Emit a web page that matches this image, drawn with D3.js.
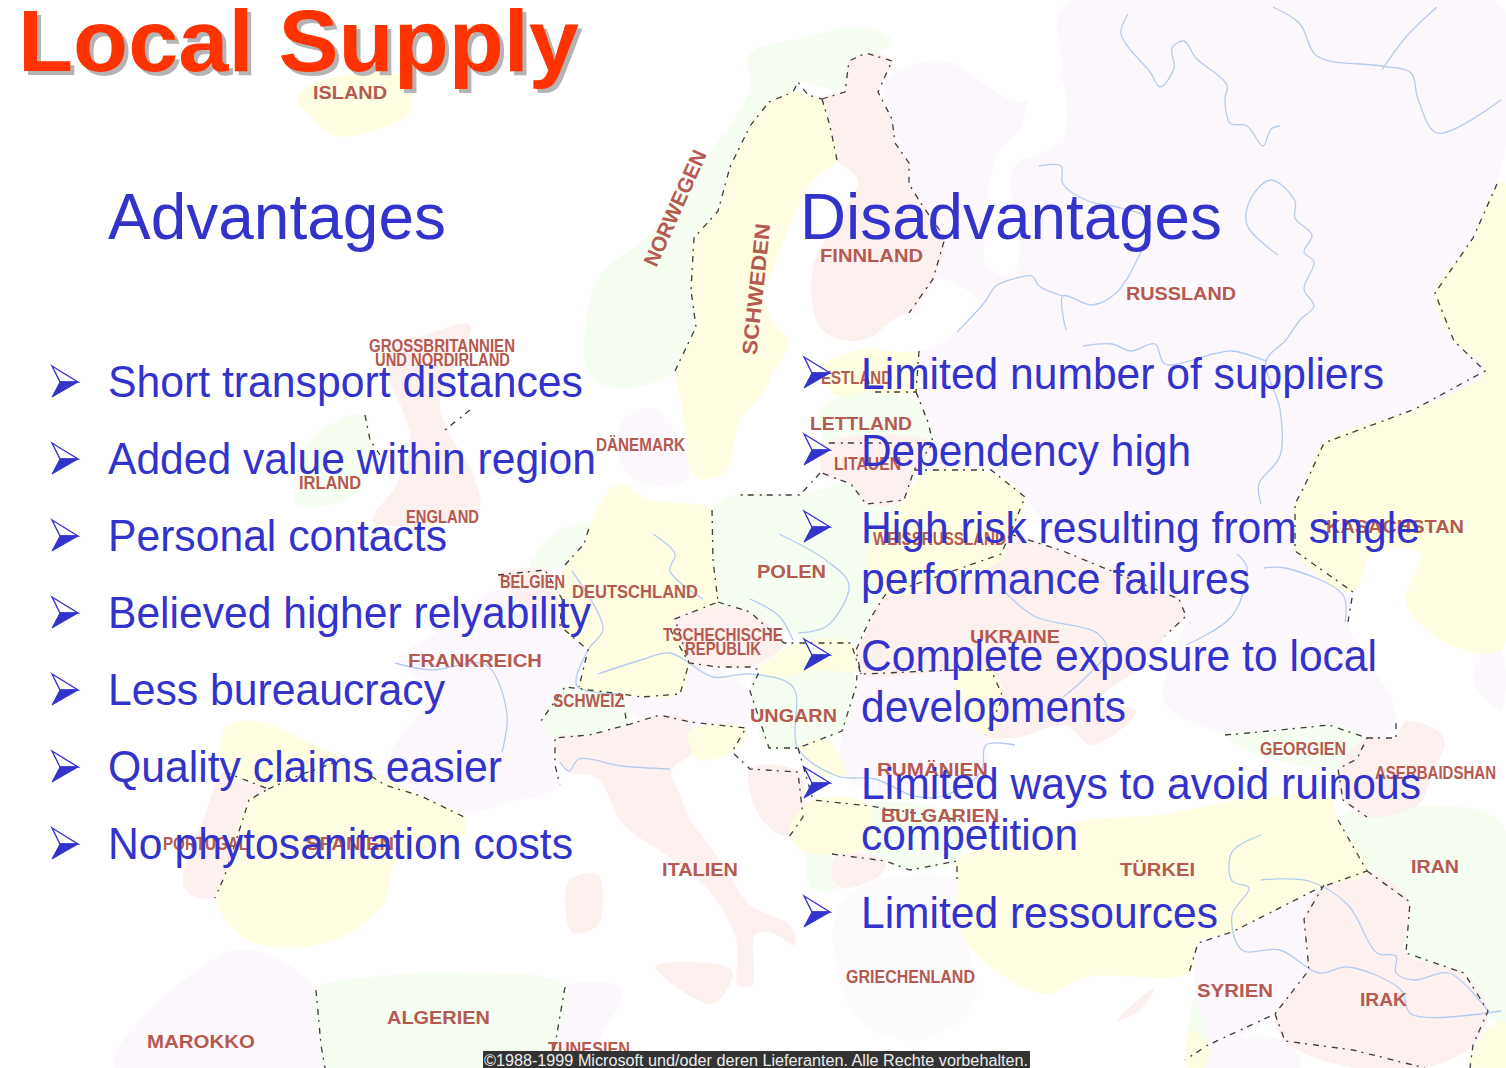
<!DOCTYPE html>
<html>
<head>
<meta charset="utf-8">
<title>Local Supply</title>
<script src="https://cdn.jsdelivr.net/npm/d3@7"></script>
<style>
  html, body { margin: 0; padding: 0; background: #fff; overflow: hidden; }
  text { font-family: "Liberation Sans", Arial, sans-serif; }
</style>
</head>
<body>
<div id="chart"></div>
<script>
// slide text
const titleText = "Local Supply";
const advantagesHead = "Advantages";
const disadvantagesHead = "Disadvantages";
const advantages = ["Short transport distances", "Added value within region", "Personal contacts",
  "Believed higher relyability", "Less bureaucracy", "Quality claims easier", "No phytosanitation costs"];
const advantagesEnd = [583, 596, 447, 591, 445, 502, 573];
const advantagesBase = [397, 474, 551, 628, 705, 782, 859];
const disadvantages = ["Limited number of suppliers", "Dependency high", "High risk resulting from single",
  "performance failures", "Complete exposure to local", "developments", "Limited ways to avoid ruinous",
  "competition", "Limited ressources"];
const disadvantagesEnd = [1384, 1191, 1420, 1250, 1377, 1126, 1421, 1078, 1218];
const disadvantagesBase = [389, 466, 543, 594, 671, 722, 799, 850, 928];
const bulletBaseRight = [388, 465, 542, 670, 798, 927];
const copyrightText = "©1988-1999 Microsoft und/oder deren Lieferanten. Alle Rechte vorbehalten.";

// map labels: name, left edge, baseline, right edge (map units)
const mapLabels = [
  ["ISLAND", 313, 99, 387],
  ["FINNLAND", 820, 262, 923], ["RUSSLAND", 1126, 300, 1236],
  ["GROSSBRITANNIEN", 369, 352, 515], ["UND NORDIRLAND", 375, 366, 510],
  ["DÄNEMARK", 596, 451, 685], ["ESTLAND", 821, 384, 892], ["LETTLAND", 810, 430, 912],
  ["LITAUEN", 834, 470, 901], ["IRLAND", 299, 489, 361], ["ENGLAND", 406, 523, 479],
  ["WEISSRUSSLAND", 873, 545, 1006], ["KASACHSTAN", 1326, 533, 1464],
  ["BELGIEN", 500, 588, 565], ["DEUTSCHLAND", 572, 598, 698], ["POLEN", 757, 578, 826],
  ["TSCHECHISCHE", 663, 641, 783], ["REPUBLIK", 685, 655, 761], ["UKRAINE", 970, 643, 1060],
  ["FRANKREICH", 408, 667, 542], ["SCHWEIZ", 553, 707, 624], ["UNGARN", 750, 722, 837],
  ["GEORGIEN", 1260, 755, 1346], ["RUMÄNIEN", 877, 776, 988], ["ASERBAIDSHAN", 1375, 779, 1496],
  ["BULGARIEN", 881, 822, 999], ["PORTUGAL", 163, 850, 248], ["SPANIEN", 306, 850, 394],
  ["ITALIEN", 662, 876, 738], ["TÜRKEI", 1120, 876, 1195], ["IRAN", 1411, 873, 1459],
  ["GRIECHENLAND", 846, 983, 975], ["SYRIEN", 1197, 997, 1273], ["IRAK", 1360, 1006, 1407],
  ["ALGERIEN", 387, 1024, 490], ["MAROKKO", 147, 1048, 255], ["TUNESIEN", 548, 1055, 630]
];
// the two rotated labels: name, centre x, centre y, angle, length
const rotatedLabels = [
  ["NORWEGEN", 675, 208, -66, 125],
  ["SCHWEDEN", 756, 289, -84, 132]
];

// land areas by tint, outlines
const yellowLands = [
  [[297,99],[316,82],[407,78],[409,112],[388,126],[335,136],[311,116]],
  [[675,371],[696,327],[691,290],[694,238],[718,211],[730,167],[750,126],[769,102],[793,92],[810,97],[822,99],[830,126],[837,160],[813,180],[790,225],[775,265],[764,296],[775,325],[789,340],[772,375],[764,392],[740,420],[725,472],[695,477],[685,430],[680,395]],
  [[1497,184],[1473,238],[1435,293],[1454,341],[1485,371],[1415,409],[1324,443],[1304,487],[1295,504],[1295,551],[1353,592],[1372,554],[1420,553],[1406,602],[1425,629],[1473,653],[1501,650],[1506,640],[1506,184]],
  [[957,881],[957,861],[1010,838],[1087,820],[1160,815],[1240,800],[1329,796],[1338,820],[1367,871],[1319,888],[1232,932],[1198,943],[1189,973],[1087,977],[1044,994],[967,943]],
  [[957,670],[991,670],[1003,697],[986,735],[962,711]],
  [[904,500],[925,472],[991,473],[1025,500],[1010,534],[1000,560],[885,595],[870,571],[870,540]],
  [[822,368],[860,350],[914,347],[916,392],[870,392],[835,395]],
  [[617,484],[650,500],[700,505],[712,510],[713,560],[718,602],[675,619],[689,663],[680,694],[641,697],[579,687],[588,650],[560,626],[565,565],[584,544],[590,525]],
  [[225,728],[254,721],[344,759],[421,796],[464,817],[464,834],[397,861],[383,905],[325,943],[249,941],[215,898],[225,875],[249,800],[268,789],[225,772]],
  [[789,830],[813,800],[870,806],[866,847],[837,854],[803,851]],
  [[760,670],[798,643],[851,643],[856,670],[817,670],[775,678]],
  [[689,731],[746,728],[732,752],[698,759]],
  [[799,748],[825,738],[842,760],[845,775],[820,772]],
  [[1488,1028],[1506,1022],[1506,1068],[1470,1068]],
  [[1190,1030],[1208,1045],[1205,1068],[1188,1068]]
];
const pinkLands = [
  [[866,53],[849,61],[844,89],[822,99],[830,126],[837,160],[858,180],[835,225],[813,266],[820,327],[856,341],[909,313],[933,279],[945,238],[909,184],[909,163],[895,143],[892,119],[878,92],[892,61]],
  [[1324,885],[1367,871],[1410,902],[1406,953],[1464,973],[1488,1011],[1473,1045],[1425,1068],[1353,1068],[1285,1041],[1275,1014],[1309,970],[1304,919]],
  [[870,619],[885,595],[1001,554],[1001,534],[1063,551],[1179,599],[1186,616],[1165,636],[1136,670],[1100,700],[1136,711],[1092,745],[1065,725],[1015,738],[986,735],[1003,697],[991,670],[957,670],[861,674],[856,650],[866,633]],
  [[1367,738],[1396,738],[1406,721],[1444,738],[1430,779],[1420,803],[1367,817],[1343,800],[1338,769]],
  [[822,473],[827,443],[933,443],[914,470],[904,500],[866,504],[851,484]],
  [[498,575],[545,570],[562,599],[560,626],[507,592]],
  [[555,738],[589,735],[627,725],[660,715],[690,722],[692,752],[672,770],[680,795],[689,817],[720,860],[750,905],[790,925],[795,945],[770,932],[755,935],[752,985],[738,985],[737,943],[713,895],[670,858],[622,823],[598,779],[565,770]],
  [[569,881],[598,875],[598,925],[572,932]],
  [[655,966],[732,970],[713,1004]],
  [[225,772],[268,789],[249,800],[225,875],[215,898],[184,888],[206,813]],
  [[395,345],[425,335],[470,325],[440,400],[445,425],[474,477],[478,511],[373,521],[397,484],[411,443],[402,409],[388,375]],
  [[670,629],[679,612],[708,606],[750,612],[784,643],[750,667],[718,667],[689,663]],
  [[750,769],[798,772],[803,817],[789,837],[760,817]],
  [[837,854],[885,861],[880,875],[842,888],[832,875]],
  [[1116,1021],[1155,987],[1140,1010]]
];
const lavenderLands = [
  [[1063,7],[1501,7],[1497,184],[1473,238],[1435,293],[1454,341],[1485,371],[1415,409],[1324,443],[1304,487],[1295,504],[1295,551],[1353,592],[1348,622],[1396,718],[1372,745],[1232,735],[1165,704],[1165,677],[1186,616],[1179,595],[1058,544],[1025,497],[991,470],[914,470],[933,439],[916,392],[919,351],[909,313],[933,279],[945,238],[909,184],[909,163],[895,143],[892,119],[885,82],[943,61],[1020,102],[1060,75]],
  [[1232,932],[1319,892],[1304,919],[1309,970],[1275,1014],[1208,1045],[1194,973],[1198,943]],
  [[500,590],[560,626],[588,650],[579,687],[555,720],[553,760],[560,785],[507,803],[464,813],[421,796],[390,760],[430,690],[397,663],[440,630]],
  [[622,694],[680,694],[689,663],[720,670],[755,700],[745,730],[700,728],[640,720]],
  [[120,1045],[239,950],[316,990],[321,1045],[325,1068],[115,1068]],
  [[565,987],[622,990],[598,1045],[600,1068],[550,1068],[555,1045]],
  [[622,422],[655,409],[689,477],[646,484],[622,465]],
  [[857,675],[960,670],[965,710],[986,735],[985,770],[960,790],[870,790],[845,775],[842,731],[856,687]],
  [[1473,680],[1483,653],[1501,650],[1501,711]],
  [[1208,1045],[1285,1041],[1300,1068],[1205,1068]]
];
// very faint speckled land
const paleLands = [
  [[880,880],[957,881],[967,943],[975,1000],[920,1040],[860,1020],[835,960],[840,905]]
];
const greenLands = [
  [[589,375],[589,306],[603,272],[646,238],[703,163],[750,89],[750,54],[808,37],[861,27],[892,41],[870,58],[849,61],[844,89],[798,82],[793,92],[769,102],[750,126],[730,167],[718,211],[694,238],[691,290],[696,327],[675,371],[622,388]],
  [[1343,817],[1425,806],[1501,823],[1506,1040],[1488,1011],[1464,973],[1406,953],[1410,902],[1367,871]],
  [[1225,735],[1280,730],[1329,725],[1367,738],[1357,759],[1338,769],[1261,755]],
  [[822,409],[870,392],[916,402],[928,422],[933,443],[827,443]],
  [[712,510],[735,495],[800,495],[851,484],[866,504],[904,500],[870,540],[870,571],[885,595],[870,619],[858,640],[810,640],[760,620],[718,602],[713,560]],
  [[565,565],[584,544],[590,525],[560,530],[530,565]],
  [[541,721],[565,687],[622,694],[627,725],[589,735],[555,738]],
  [[750,691],[760,670],[817,670],[851,670],[856,687],[842,731],[798,748],[769,748]],
  [[808,840],[832,854],[837,888],[812,888]],
  [[870,806],[960,820],[957,861],[910,870],[885,861],[866,847]],
  [[316,990],[373,977],[455,973],[565,987],[555,1045],[550,1068],[325,1068],[321,1045]],
  [[311,439],[364,415],[368,477],[344,501],[297,504],[297,477]],
  [[1194,1000],[1208,1045],[1190,1040]]
];
// white water on top of the tinted land
const waterAreas = [
  [[1060,80],[1062,140],[1015,165],[1010,180],[1020,240],[1012,276],[985,265],[985,240],[990,180],[1000,150],[1020,130],[1030,100]],
  [[938,279],[981,306],[952,334],[919,323]],
  [[909,313],[952,334],[919,351],[870,345]]
];

// national borders
const borders = [
  [[675,371],[696,327],[691,290],[694,238],[718,211],[730,167],[750,126],[769,102],[793,92],[798,82],[808,95],[822,99]],
  [[822,99],[845,92],[849,61],[866,53],[892,61],[878,92],[892,119],[895,143],[909,163],[909,184],[922,205],[945,238],[933,279],[909,313]],
  [[822,99],[830,126],[837,160]],
  [[1497,184],[1473,238],[1435,293],[1454,341],[1485,371],[1415,409],[1324,443],[1304,487],[1295,504],[1295,551],[1353,592],[1348,622]],
  [[919,351],[916,392],[870,392]],[[916,392],[928,422],[933,443],[827,443]],
  [[933,443],[914,470],[904,500],[866,504],[851,484],[822,473]],
  [[914,470],[991,470],[1025,497],[1010,534],[1001,554],[885,595],[870,619],[856,650],[861,674]],
  [[1010,534],[1063,551],[1179,599],[1186,616],[1165,636]],
  [[712,510],[713,560],[718,602],[675,619],[689,663],[680,694],[641,697],[622,694],[565,687],[541,721]],
  [[718,602],[750,612],[784,643],[851,643],[861,674],[957,670],[991,670],[1003,697],[986,735]],
  [[670,629],[689,663],[718,667],[750,667],[760,670],[750,691],[769,748],[798,748],[842,731],[856,687],[857,675]],
  [[498,575],[545,570],[562,599],[560,626],[588,650],[579,687]],
  [[565,565],[584,544],[590,525]],
  [[622,694],[627,725],[589,735],[555,738],[555,765],[560,785]],
  [[627,725],[660,715],[690,722],[746,728],[732,752],[750,769],[798,772],[803,817],[789,837]],
  [[798,748],[813,800],[870,806],[960,820]],
  [[832,854],[885,861],[910,870],[957,861],[957,881]],
  [[225,772],[268,789],[249,800],[225,875],[215,898]],
  [[268,789],[300,775],[344,759],[385,785],[421,796],[464,817]],
  [[316,990],[321,1045],[325,1068]],[[565,987],[555,1045],[550,1068]],
  [[1225,735],[1280,730],[1329,725],[1367,738],[1357,759],[1338,769],[1343,800],[1367,817]],
  [[1367,738],[1396,738],[1396,718]],
  [[1338,820],[1367,871],[1319,888],[1232,932],[1198,943],[1189,973]],
  [[1367,871],[1410,902],[1406,953],[1464,973],[1488,1011],[1473,1045],[1470,1068]],
  [[1324,885],[1304,919],[1309,970],[1275,1014],[1208,1045],[1185,1060]],
  [[1275,1014],[1285,1041],[1353,1050],[1425,1068]],
  [[365,415],[370,440],[380,455]],[[470,410],[445,430]],[[820,473],[800,495],[735,495]]
];
// rivers
const rivers = [
  [[1128,14],[1121,34],[1150,72],[1160,87],[1174,68],[1172,48],[1184,41],[1196,58],[1227,85],[1225,99],[1230,123],[1247,126],[1263,146],[1271,129],[1280,126]],
  [[1273,7],[1300,24],[1317,56],[1382,66],[1411,73],[1418,99],[1437,133],[1501,100]],
  [[1437,7],[1406,37],[1382,70]],
  [[1039,166],[1061,166],[1063,184],[1088,201],[1121,208],[1150,221],[1136,262],[1116,293],[1092,305],[1063,296],[1066,330]],
  [[1063,296],[1039,286],[1032,276],[1013,279],[996,286],[984,303],[957,332]],
  [[1278,255],[1247,225],[1251,198],[1271,180],[1295,201],[1295,218],[1312,235],[1304,252],[1314,262],[1304,289],[1314,306],[1300,320],[1285,341],[1266,361],[1280,409],[1280,456],[1259,484],[1261,504]],
  [[1083,346],[1112,344],[1131,351],[1155,344],[1165,364],[1213,354],[1232,351],[1266,361]],
  [[1001,588],[1034,616],[1097,633],[1107,650],[1083,680],[1063,697]],
  [[1186,645],[1232,616],[1247,568],[1237,554]],
  [[1264,568],[1285,568],[1343,595],[1345,622]],
  [[572,571],[603,629],[588,650],[577,686],[622,694]],
  [[598,674],[641,660],[670,653],[713,677],[750,674],[793,687],[798,748],[837,776],[875,779],[914,796],[943,796],[981,772],[986,745],[1015,745]],
  [[779,534],[827,561],[849,585],[827,626],[798,633]],
  [[750,599],[779,616],[793,640]],
  [[653,534],[675,554],[670,571],[703,599]],
  [[395,663],[431,670],[486,665],[507,714],[502,752]],
  [[560,762],[569,771],[579,759],[622,766],[670,769]],
  [[1261,835],[1232,852],[1232,881],[1249,888],[1232,915],[1242,950],[1280,950],[1319,973],[1348,967],[1401,990],[1411,1014],[1501,1011]],
  [[1261,880],[1309,881],[1348,905],[1377,953],[1396,956],[1396,973],[1415,980],[1449,973],[1488,1011]]
];

let width = 1506,
    height = 1068;

let x = d3.scaleLinear().domain([0, 1506]).range([0, width]),
    y = d3.scaleLinear().domain([0, 1068]).range([0, height]);

let line = d3.line()
    .x(d => x(d[0]))
    .y(d => y(d[1]));

let landOutline = d3.line()
    .x(d => x(d[0]))
    .y(d => y(d[1]))
    .curve(d3.curveCatmullRomClosed.alpha(0.5));

let riverLine = d3.line()
    .x(d => x(d[0]))
    .y(d => y(d[1]))
    .curve(d3.curveCatmullRom.alpha(0.5));

let svg = d3.select("#chart").append("svg")
    .attr("width", width)
    .attr("height", height)
    .style("display", "block");

svg.append("rect").attr("width", width).attr("height", height).attr("fill", "#fff");

function drawLands(data, fill) {
  svg.append("g").selectAll("path").data(data).enter().append("path")
      .attr("d", landOutline)
      .attr("fill", fill);
}

drawLands(paleLands, "#fefbfe");
drawLands(lavenderLands, "#fdf8fd");
drawLands(greenLands, "#f6fdf1");
drawLands(pinkLands, "#fdf1ef");
drawLands(yellowLands, "#fffee2");
drawLands(waterAreas, "#fff");

//rivers
svg.append("g").selectAll("path").data(rivers).enter().append("path")
    .attr("d", riverLine)
    .attr("fill", "none")
    .attr("stroke", "#b4ccf0")
    .attr("stroke-width", 1.3);

//borders
svg.append("g").selectAll("path").data(borders).enter().append("path")
    .attr("d", line)
    .attr("fill", "none")
    .attr("stroke", "#3c3c3c")
    .attr("stroke-width", 1.3)
    .style("stroke-dasharray", "6,5,2,6");

//country names
svg.append("g").selectAll("text")
    .data(mapLabels)
    .enter().append("text")
    .attr("x", d => x(d[1]))
    .attr("y", d => y(d[2]))
    .attr("textLength", d => x(d[3]) - x(d[1]))
    .attr("lengthAdjust", "spacingAndGlyphs")
    .attr("font-size", 19)
    .attr("font-weight", "bold")
    .attr("fill", "#b55a50")
    .text(d => d[0]);

svg.append("g").selectAll("text")
    .data(rotatedLabels)
    .enter().append("text")
    .attr("transform", d => "translate(" + x(d[1]) + "," + y(d[2]) + ")rotate(" + d[3] + ")")
    .attr("text-anchor", "middle")
    .attr("textLength", d => d[4])
    .attr("lengthAdjust", "spacingAndGlyphs")
    .attr("dy", ".35em")
    .attr("font-size", 21)
    .attr("font-weight", "bold")
    .attr("fill", "#b55a50")
    .text(d => d[0]);

//footer
svg.append("rect")
    .attr("x", x(483)).attr("y", y(1051))
    .attr("width", x(1030) - x(483)).attr("height", y(1068) - y(1051))
    .attr("fill", "#333");
svg.append("text")
    .attr("x", x(484)).attr("y", y(1066))
    .attr("textLength", x(1028) - x(484))
    .attr("lengthAdjust", "spacingAndGlyphs")
    .attr("font-size", 16)
    .attr("fill", "#eee")
    .text(copyrightText);

//title with its drop shadow
[["#b4b4b4", 4, 4], ["#ff3300", 0, 0]].forEach(s => {
  svg.append("text")
      .attr("x", x(18) + s[1]).attr("y", y(71) + s[2])
      .attr("textLength", x(579) - x(18))
      .attr("lengthAdjust", "spacingAndGlyphs")
      .attr("font-size", 88)
      .attr("font-weight", "bold")
      .attr("fill", s[0])
      .text(titleText);
});

//column heads
[[advantagesHead, 108, 446], [disadvantagesHead, 800, 1222]].forEach(h => {
  svg.append("text")
      .attr("x", x(h[1])).attr("y", y(239))
      .attr("textLength", x(h[2]) - x(h[1]))
      .attr("lengthAdjust", "spacingAndGlyphs")
      .attr("font-size", 65)
      .attr("fill", "#3333cc")
      .text(h[0]);
});

function drawItems(items, ends, bases, left) {
  svg.append("g").selectAll("text")
      .data(items).enter().append("text")
      .attr("x", x(left))
      .attr("y", (d, i) => y(bases[i]))
      .attr("textLength", (d, i) => x(ends[i]) - x(left))
      .attr("lengthAdjust", "spacingAndGlyphs")
      .attr("font-size", 45)
      .attr("fill", "#3333cc")
      .text(d => d);
}

drawItems(advantages, advantagesEnd, advantagesBase, 108);
drawItems(disadvantages, disadvantagesEnd, disadvantagesBase, 861);

//arrow bullets, half outline half solid
function drawBullets(bases, left) {
  let g = svg.append("g").selectAll("g")
      .data(bases).enter().append("g")
      .attr("transform", d => "translate(" + x(left) + "," + y(d) + ")");
  g.append("path")
      .attr("d", "M0,-31L26,-15L8,-15Z")
      .attr("fill", "#fff")
      .attr("stroke", "#3333cc")
      .attr("stroke-width", 1.4);
  g.append("path")
      .attr("d", "M8,-15L26,-15L0,0Z")
      .attr("fill", "#3333cc")
      .attr("stroke", "#3333cc")
      .attr("stroke-width", 1);
}

drawBullets(advantagesBase, 52);
drawBullets(bulletBaseRight, 804);
</script>
</body>
</html>
